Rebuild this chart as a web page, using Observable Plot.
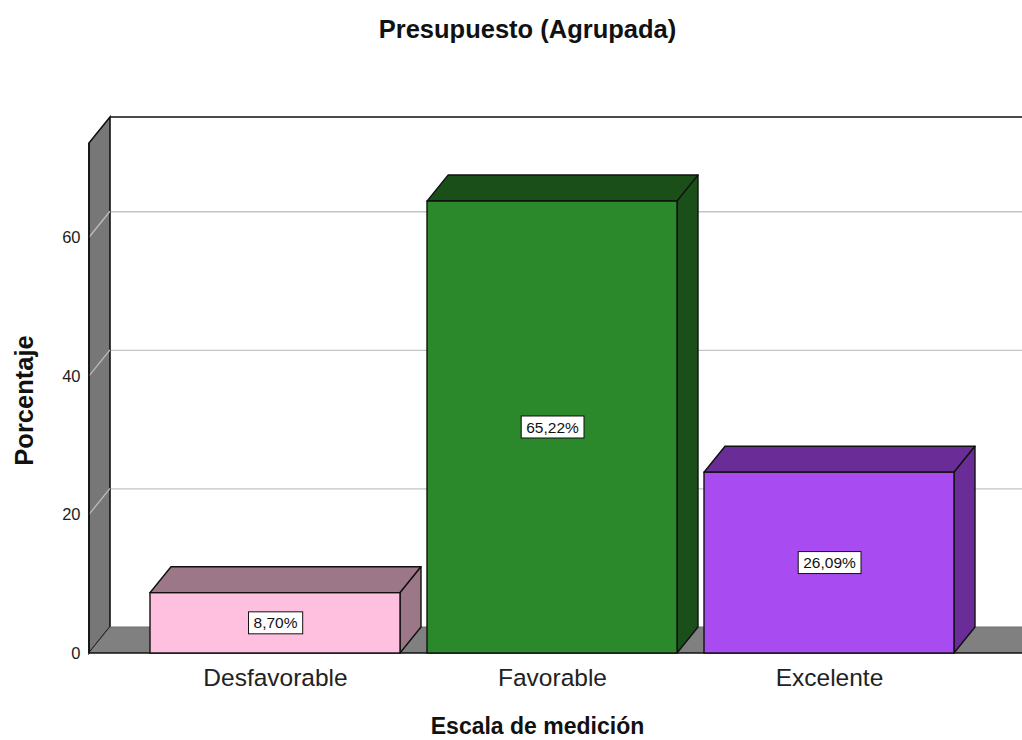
<!DOCTYPE html>
<html>
<head>
<meta charset="utf-8">
<script src="https://cdn.jsdelivr.net/npm/d3@7"></script>
<script src="https://cdn.jsdelivr.net/npm/@observablehq/plot@0.6"></script>
<style>
  html, body { margin: 0; padding: 0; background: white; overflow: hidden; }
</style>
</head>
<body>
<div id="chart"></div>
<script>
// ---- data ----
const categories = ["Desfavorable", "Favorable", "Excelente"];
const percentages = [8.70, 65.22, 26.09];
const yTicks = [0, 20, 40, 60];
const titleText = "Presupuesto (Agrupada)";
const xTitle = "Escala de medición";
const yTitle = "Porcentaje";

// ---- styles ----
const frontColors = ["#ffc0e0", "#2b892c", "#a84bf0"];
const darkColors = ["#9c7787", "#1b4f19", "#6a2c96"];
const DX = 21, DY = -26;           // 3D depth offset in pixels
const YMAX = 73.6;
const FONT = "'Liberation Sans', Arial, sans-serif";

const data = categories.map((c, i) => ({
  category: c,
  value: percentages[i],
  label: percentages[i].toFixed(2).replace(".", ",") + "%"
}));

// walls, floor and gridline diagonals
function walls(index, {x, y}, values, dims) {
  const {marginLeft, width} = dims;
  const g = d3.create("svg:g");
  const x0 = marginLeft, y0 = y(0), yT = y(YMAX);
  g.append("path")
    .attr("d", `M${x0},${yT}L${x0 + DX},${yT + DY}L${x0 + DX},${y0 + DY}L${x0},${y0}Z`)
    .attr("fill", "#777777").attr("stroke", "#111").attr("stroke-width", 1.6);
  for (const t of yTicks.filter(t => t > 0)) {
    g.append("line")
      .attr("x1", x0).attr("y1", y(t)).attr("x2", x0 + DX).attr("y2", y(t) + DY)
      .attr("stroke", "#bdbdbd").attr("stroke-width", 1.3);
  }
  g.append("line")
    .attr("x1", x0 + DX).attr("y1", yT + DY).attr("x2", width).attr("y2", yT + DY)
    .attr("stroke", "#111").attr("stroke-width", 1.6);
  g.append("path")
    .attr("d", `M${x0},${y0}L${x0 + DX},${y0 + DY}L${width},${y0 + DY}L${width},${y0}Z`)
    .attr("fill", "#808080");
  g.append("line")
    .attr("x1", x0 + DX).attr("y1", y0 + DY).attr("x2", width).attr("y2", y0 + DY)
    .attr("stroke", "#6e6e6e").attr("stroke-width", 1);
  g.append("line")
    .attr("x1", x0).attr("y1", y0).attr("x2", width).attr("y2", y0)
    .attr("stroke", "#111").attr("stroke-width", 1.6);
  g.append("line")
    .attr("x1", x0).attr("y1", yT).attr("x2", x0).attr("y2", y0)
    .attr("stroke", "#111").attr("stroke-width", 1.6);
  return g.node();
}

// top and side faces of the bars
function barFaces(index, {x, y}) {
  const g = d3.create("svg:g");
  const bw = x.bandwidth();
  data.forEach((d, i) => {
    const xa = x(d.category), xb = xa + bw;
    const yt = y(d.value), yb = y(0);
    g.append("path")
      .attr("d", `M${xa},${yt}L${xa + DX},${yt + DY}L${xb + DX},${yt + DY}L${xb},${yt}Z`)
      .attr("fill", darkColors[i]).attr("stroke", "#111").attr("stroke-width", 1.4)
      .attr("stroke-linejoin", "round");
    g.append("path")
      .attr("d", `M${xb},${yt}L${xb + DX},${yt + DY}L${xb + DX},${yb + DY}L${xb},${yb}Z`)
      .attr("fill", darkColors[i]).attr("stroke", "#111").attr("stroke-width", 1.4)
      .attr("stroke-linejoin", "round");
  });
  return g.node();
}

const chart = Plot.plot({
  width: 1022,
  height: 740,
  marginLeft: 89,
  marginRight: 0,
  marginTop: 143,
  marginBottom: 87,
  style: {fontFamily: FONT, background: "white", color: "#111"},
  x: {domain: categories, range: [135.5, 969.5], paddingInner: 0.0971, paddingOuter: 0.0486, axis: null},
  y: {domain: [0, YMAX], axis: null},
  color: {domain: categories, range: frontColors},
  marks: [
    Plot.ruleY(yTicks.filter(t => t > 0), {stroke: "#c4c4c4", strokeWidth: 1.3, dx: DX, dy: DY}),
    walls,
    barFaces,
    Plot.barY(data, {x: "category", y: "value", fill: "category", stroke: "#111", strokeWidth: 1.4}),
    Plot.text(data, {x: "category", y: d => d.value / 2, text: "label", fontSize: 15.5, fill: "#111", className: "vlabel"}),
    Plot.text(yTicks, {y: d => d, text: d => String(d), frameAnchor: "left", textAnchor: "end", dx: -9, fontSize: 16.5, fill: "#222"}),
    Plot.text(categories, {x: d => d, text: d => d, frameAnchor: "bottom", lineAnchor: "middle", dy: 25, fontSize: 24.5, fill: "#222"}),
    Plot.text([titleText], {text: d => d, frameAnchor: "top", lineAnchor: "middle", textAnchor: "middle", dx: -28.5, dy: -114, fontSize: 25.5, fontWeight: "bold", fill: "#111"}),
    Plot.text([xTitle], {text: d => d, frameAnchor: "bottom", lineAnchor: "middle", textAnchor: "middle", dx: -18.5, dy: 73.5, fontSize: 23, fontWeight: "bold", fill: "#111"}),
    Plot.text([yTitle], {text: d => d, frameAnchor: "left", lineAnchor: "middle", textAnchor: "middle", rotate: -90, dx: -65, dy: 2, fontSize: 25.5, fontWeight: "bold", fill: "#111"})
  ]
});

document.getElementById("chart").appendChild(chart);

// white boxes behind value labels
chart.querySelectorAll(".vlabel text").forEach(t => {
  const b = t.getBBox();
  const r = document.createElementNS("http://www.w3.org/2000/svg", "rect");
  const padX = 5, padY = 3.5;
  r.setAttribute("x", b.x - padX);
  r.setAttribute("y", b.y - padY + 1);
  r.setAttribute("width", b.width + 2 * padX);
  r.setAttribute("height", b.height + 2 * padY - 2);
  r.setAttribute("fill", "white");
  r.setAttribute("stroke", "#111");
  r.setAttribute("stroke-width", 1);
  const tr = t.getAttribute("transform");
  if (tr) r.setAttribute("transform", tr);
  t.parentNode.insertBefore(r, t);
});
</script>
</body>
</html>
